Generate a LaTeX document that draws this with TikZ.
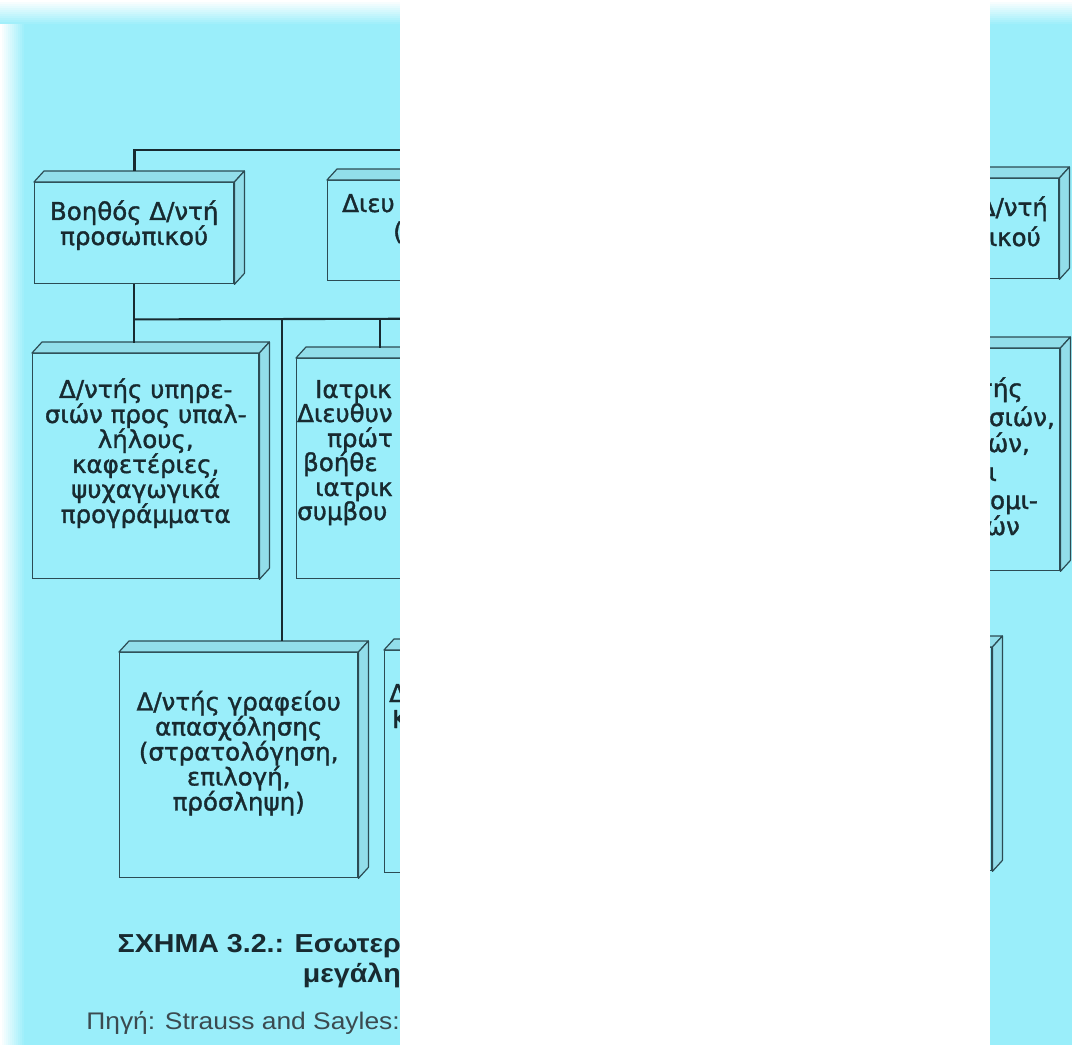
\documentclass[tikz,border=0pt]{standalone}
\usepackage{fontspec}
\newfontfamily\boxfont[FakeBold=1.4]{DejaVu Sans}
\newfontfamily\capfont[FakeStretch=1.1]{Liberation Sans}
\usetikzlibrary{calc}
\definecolor{scanbg}{RGB}{154,238,250}
\definecolor{sideface}{RGB}{146,222,234}
\definecolor{boxline}{RGB}{44,76,84}
\definecolor{ink}{RGB}{24,42,48}
\tikzset{
  orgbox/.style={draw=boxline, fill=scanbg, line width=1.4pt, inner sep=0pt, anchor=north west},
  face/.style={draw=boxline, fill=sideface, line width=1.2pt, line join=round},
  boxtext/.style={align=center, inner sep=0pt, text=ink, font=\boxfont\fontsize{24.5}{25}\selectfont},
  frag/.style={inner sep=0pt, text=ink, font=\boxfont\fontsize{24.5}{25}\selectfont},
  link/.style={draw=ink, line width=2.1pt},
  captitle/.style={inner sep=0pt, text=ink, font=\capfont\bfseries\fontsize{26}{28}\selectfont},
  capsource/.style={inner sep=0pt, text=ink!85, font=\capfont\fontsize{24}{27}\selectfont}
}
\newcommand{\boxfaces}[1]{%
  \filldraw[face] (#1.north west) -- ++(10,-11) -- ($(#1.north east)+(10,-11)$) -- (#1.north east) -- cycle;
  \filldraw[face] (#1.north east) -- ++(10,-11) -- ($(#1.south east)+(10,-11)$) -- (#1.south east) -- cycle;
}

\begin{document}
\begin{tikzpicture}[x=1pt, y=-1pt]
\useasboundingbox (0,0) rectangle (1072,1045);
% scanned page, fading out at the top and left edges
\fill[scanbg] (0,0) rectangle (1072,1045);
\foreach \i in {0,...,11} {
  \pgfmathsetmacro{\k}{\i*100/12}
  \fill[scanbg!\k!white] (0,2*\i) rectangle (1072,2*\i+2);
  \fill[scanbg!\k!white] (2*\i,2*\i) rectangle (2*\i+2,1045);
}

% boxes
\node[orgbox, minimum width=199, minimum height=101] (assist) at (34,182) {};
\node[orgbox, minimum width=233, minimum height=100] (director) at (327,180) {};
\node[orgbox, minimum width=199, minimum height=100] (rassist) at (859,178) {};
\node[orgbox, minimum width=226, minimum height=225] (welfare) at (32,353) {};
\node[orgbox, minimum width=226, minimum height=220] (medical) at (296,358) {};
\node[orgbox, minimum width=226, minimum height=222] (rservice) at (833,348) {};
\node[orgbox, minimum width=238, minimum height=225] (employ) at (119,652) {};
\node[orgbox, minimum width=238, minimum height=222] (bmid) at (384,650) {};
\node[orgbox, minimum width=238, minimum height=223] (bright) at (753,647) {};
\foreach \b in {assist,director,rassist,welfare,medical,rservice,employ,bmid,bright}
  \boxfaces{\b};

% connectors
\path (assist.north) ++(0,-32) coordinate (bus1);
\coordinate (bus1end) at (720,150);
\path (assist.south) ++(0,35) coordinate (bus2);
\coordinate (bus2end) at (720,318);
\coordinate (drop2) at (282,318);
\coordinate (drop3) at (380,318);
\draw[link, line width=2.8pt] (bus1end) -- (bus1) -- ($(assist.north)+(0,-11)$);
\draw[link] (assist.south) -- ($(assist.south |- welfare.north)+(0,-10)$);
\draw[link] (bus2) -- (bus2end);
\draw[link] (drop2) -- ($(drop2 |- employ.north)+(0,-11)$);
\draw[link] (drop3) -- ($(drop3 |- medical.north)+(0,-10)$);

% texts
\node[boxtext] (assistT) at ($(assist.center)+(0,-8)$) {Βοηθός Δ/ντή\\προσωπικού};
\node[boxtext] (welfareT) at ($(welfare.center)+(0,-13)$) {Δ/ντής υπηρε-\\σιών προς υπαλ-\\λήλους,\\καφετέριες,\\ψυχαγωγικά\\προγράμματα};
\node[boxtext] (employT) at ($(employ.center)+(0,-12)$) {Δ/ντής γραφείου\\απασχόλησης\\(στρατολόγηση,\\επιλογή,\\πρόσληψη)};
\node[frag, anchor=base west] (dirA) at (342,212) {Διευ};
\node[frag, anchor=base west] (dirB) at (393,240) {(};
\foreach \x/\y/\t [count=\i] in {315/398/Ιατρικ, 297/422/Διευθυν, 327/447/πρώτ, 303/471/βοήθε, 315/496/ιατρικ, 297/520/συμβου}
  \node[frag, anchor=base west] (med\i) at (\x,\y) {\t};
\node[frag, anchor=base west] (bmidA) at (389,702) {Δ};
\node[frag, anchor=base west] (bmidB) at (392,728) {Κ};
\node[frag, anchor=base east] (rassA) at (1048,216) {Δ/ντή};
\node[frag, anchor=base east] (rassB) at (1041,246) {ικού};
\foreach \x/\y/\t [count=\i] in {1023/397/τής, 1055/426/{σιών,}, 1030/452/{ών,}, 997/481/ι, 1038/509/ομι-, 1020/535/ών}
  \node[frag, anchor=base east] (rserv\i) at (\x,\y) {\t};

% caption
\node[captitle, anchor=base east] (capA) at (401,952) {ΣΧΗΜΑ 3.2.: Εσωτερ};
\node[captitle, anchor=base east] (capB) at (401,982) {μεγάλη};
\node[capsource, anchor=base east] (capC) at (400,1029) {Πηγή: Strauss and Sayles:};

% blank sheet laid over the scan
\fill[white] (400,0) rectangle (990,1045);
\end{tikzpicture}
\end{document}
